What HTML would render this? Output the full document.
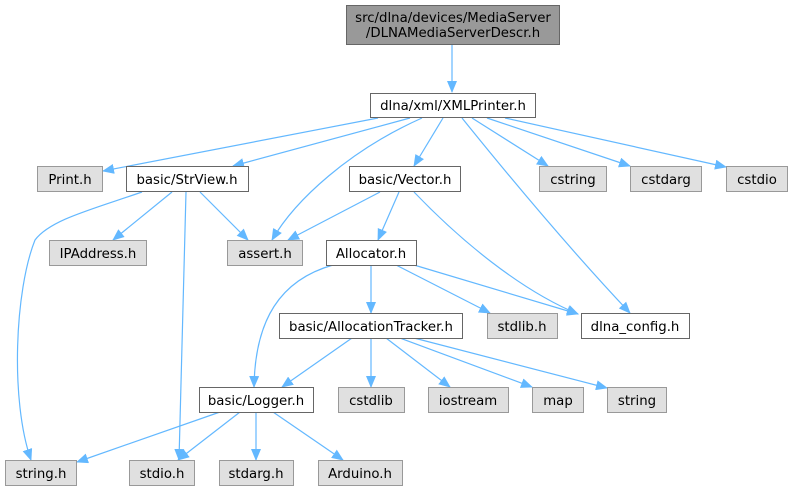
<!DOCTYPE html>
<html><head><meta charset="utf-8"><style>
html,body{margin:0;padding:0;background:#fff;width:793px;height:491px;overflow:hidden}
text{font-family:"DejaVu Sans","Liberation Sans",sans-serif;font-size:13.3px;fill:#000;text-anchor:middle}
</style></head><body>
<svg width="793" height="491" viewBox="0 0 793 491" xmlns="http://www.w3.org/2000/svg">
<defs><marker id="a" markerWidth="12" markerHeight="10" refX="11" refY="5" orient="auto" markerUnits="userSpaceOnUse"><path d="M0,0 L12,5 L0,10 z" fill="#63b8ff"/></marker></defs>
<g fill="none" stroke="#63b8ff" stroke-width="1.2" marker-end="url(#a)">
<path d="M452,45 L452,92"/>
<path d="M378,118 L103,171"/>
<path d="M410,118 L233,166"/>
<path d="M422,118 C350,150 295,200 272,240"/>
<path d="M443,118 L414,166"/>
<path d="M472,118 L548,166"/>
<path d="M487,118 L630,166"/>
<path d="M505,118 L726,167"/>
<path d="M462,118 C520,190 580,260 630,313"/>
<path d="M142,192 C90,210 50,220 35,240 C15,290 10,400 31,460"/>
<path d="M172,192 L113,240"/>
<path d="M200,192 L248,240"/>
<path d="M186,192 L179,460"/>
<path d="M380,192 L288,240"/>
<path d="M399,192 L378,240"/>
<path d="M414,192 C460,240 520,290 578,314"/>
<path d="M333,265 C280,280 255,320 254,387"/>
<path d="M371,265 L371,313"/>
<path d="M396,265 L490,313"/>
<path d="M414,265 L578,314"/>
<path d="M352,338 L282,387"/>
<path d="M371,338 L371,387"/>
<path d="M386,338 L450,387"/>
<path d="M400,338 L532,387"/>
<path d="M414,338 L607,388"/>
<path d="M220,412 L77,462"/>
<path d="M240,412 L178,460"/>
<path d="M256,412 L256,460"/>
<path d="M273,412 L343,460"/>
</g>
<g stroke-width="1">
<rect x="346.5" y="5.5" width="213" height="39" fill="#999" stroke="#666"/>
<g fill="#fff" stroke="#666">
<rect x="370.5" y="93.5" width="165" height="24"/>
<rect x="126.5" y="166.5" width="122" height="25"/>
<rect x="349.5" y="166.5" width="111" height="25"/>
<rect x="326.5" y="240.5" width="90" height="25"/>
<rect x="279.5" y="313.5" width="183" height="25"/>
<rect x="581.5" y="313.5" width="108" height="25"/>
<rect x="199.5" y="387.5" width="114" height="25"/>
</g>
<g fill="#e0e0e0" stroke="#999">
<rect x="37.5" y="166.5" width="65" height="25"/>
<rect x="539.5" y="166.5" width="67" height="25"/>
<rect x="630.5" y="166.5" width="71" height="25"/>
<rect x="726.5" y="166.5" width="61" height="25"/>
<rect x="49.5" y="240.5" width="97" height="25"/>
<rect x="227.5" y="240.5" width="75" height="25"/>
<rect x="487.5" y="313.5" width="70" height="25"/>
<rect x="338.5" y="387.5" width="66" height="25"/>
<rect x="428.5" y="387.5" width="80" height="25"/>
<rect x="532.5" y="387.5" width="51" height="25"/>
<rect x="607.5" y="387.5" width="59" height="25"/>
<rect x="5.5" y="460.5" width="71" height="25"/>
<rect x="129.5" y="460.5" width="65" height="25"/>
<rect x="219.5" y="460.5" width="74" height="25"/>
<rect x="318.5" y="460.5" width="84" height="25"/>
</g>
</g>
<g>
<text x="453" y="22">src/dlna/devices/MediaServer</text>
<text x="453" y="37">/DLNAMediaServerDescr.h</text>
<text x="453" y="110">dlna/xml/XMLPrinter.h</text>
<text x="70" y="184">Print.h</text>
<text x="187" y="184">basic/StrView.h</text>
<text x="405" y="184">basic/Vector.h</text>
<text x="573" y="184">cstring</text>
<text x="666" y="184">cstdarg</text>
<text x="757" y="184">cstdio</text>
<text x="98" y="258">IPAddress.h</text>
<text x="265" y="258">assert.h</text>
<text x="371" y="258">Allocator.h</text>
<text x="371" y="331">basic/AllocationTracker.h</text>
<text x="522" y="331">stdlib.h</text>
<text x="635" y="331">dlna_config.h</text>
<text x="256" y="405">basic/Logger.h</text>
<text x="371" y="405">cstdlib</text>
<text x="468" y="405">iostream</text>
<text x="558" y="405">map</text>
<text x="637" y="405">string</text>
<text x="41" y="478">string.h</text>
<text x="162" y="478">stdio.h</text>
<text x="256" y="478">stdarg.h</text>
<text x="360" y="478">Arduino.h</text>
</g>
</svg>
</body></html>
